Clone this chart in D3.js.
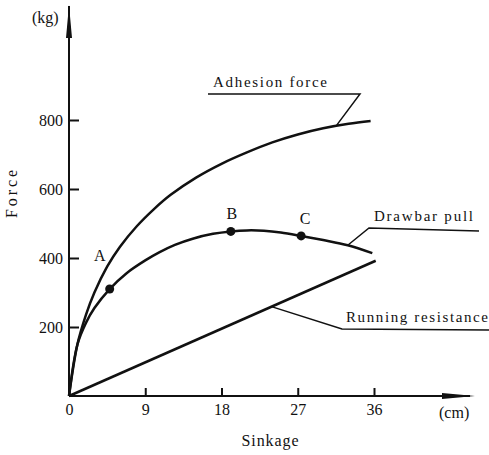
<!DOCTYPE html>
<html>
<head>
<meta charset="utf-8">
<script src="https://cdn.jsdelivr.net/npm/d3@7"></script>
<style>
  body { margin: 0; background: #fff; }
  text { font-family: "Liberation Serif", "DejaVu Serif", serif; fill: #111; }
</style>
</head>
<body>
<script>
// data (sinkage in cm, force in kg)
const adhesion = [
  [0, 0], [1, 150], [2, 235], [3, 300], [4.5, 375], [6, 432], [8, 492], [10, 541],
  [12, 583], [15, 633], [18, 673], [21, 706], [24, 735], [27, 758], [30, 776],
  [33, 789], [35.6, 797]
];
const drawbar = [
  [0, 0], [1, 150], [2, 212], [3, 255], [4.8, 310], [6.8, 356], [9, 393], [10.7, 417],
  [12.5, 438], [14.6, 456], [17, 470], [19.1, 477], [21, 480], [23, 479], [25, 474],
  [27.4, 464], [30, 452], [32.9, 437], [35.8, 414]
];
const running = [[0, 0], [36.2, 392]];
const points = [
  { name: "A", x: 4.8, y: 310 },
  { name: "B", x: 19.1, y: 477 },
  { name: "C", x: 27.4, y: 464 }
];
const xTicks = [0, 9, 18, 27, 36];
const yTicks = [200, 400, 600, 800];

const width = 489, height = 455;
const svg = d3.select('body').append('svg')
    .attr('width', width)
    .attr('height', height);

const x = d3.scaleLinear().domain([0, 36]).range([69, 374]);
const y = d3.scaleLinear().domain([0, 800]).range([396, 120]);

// axes with inward ticks
const gx = svg.append('g')
    .attr('transform', `translate(0,${y(0)})`)
    .call(d3.axisBottom(x).tickValues(xTicks).tickSizeInner(-8).tickSizeOuter(0).tickPadding(8));
const gy = svg.append('g')
    .attr('transform', `translate(${x(0)},0)`)
    .call(d3.axisLeft(y).tickValues(yTicks).tickSizeInner(-10).tickSizeOuter(0).tickPadding(6));
[gx, gy].forEach(g => {
  g.attr('font-family', '"Liberation Serif", serif');
  g.select('.domain').remove();
  g.selectAll('line').attr('stroke', '#111').attr('stroke-width', 2);
  g.selectAll('text').attr('font-size', 16).attr('fill', '#111');
});

// axis lines with arrows
svg.append('line').attr('x1', x(0)).attr('y1', y(0)).attr('x2', 470).attr('y2', y(0))
    .attr('stroke', '#111').attr('stroke-width', 2);
svg.append('line').attr('x1', x(0)).attr('y1', y(0)).attr('x2', x(0)).attr('y2', 6)
    .attr('stroke', '#111').attr('stroke-width', 2);
svg.append('path')
    .attr('d', `M442,${y(0) - 3}L475,${y(0)}L442,${y(0) + 3}Z`)
    .attr('fill', '#111');
svg.append('path')
    .attr('d', `M${x(0) - 3},38L${x(0)},5L${x(0) + 3},38Z`)
    .attr('fill', '#111');

// curves
const line = d3.line().x(d => x(d[0])).y(d => y(d[1])).curve(d3.curveCatmullRom.alpha(0.5));
[adhesion, drawbar, running].forEach(s => {
  svg.append('path')
      .attr('d', line(s))
      .attr('fill', 'none')
      .attr('stroke', '#111')
      .attr('stroke-width', 2.5);
});

// marked points
svg.selectAll('circle.pt')
    .data(points)
    .enter()
    .append('circle')
    .attr('class', 'pt')
    .attr('cx', d => x(d.x))
    .attr('cy', d => y(d.y))
    .attr('r', 4.5)
    .attr('fill', '#111');
const labelOffset = { A: [-10, -28], B: [1, -12], C: [4, -12] };
svg.selectAll('text.pt')
    .data(points)
    .enter()
    .append('text')
    .attr('class', 'pt')
    .attr('x', d => x(d.x) + labelOffset[d.name][0])
    .attr('y', d => y(d.y) + labelOffset[d.name][1])
    .attr('text-anchor', 'middle')
    .attr('font-size', 16)
    .text(d => d.name);

// leader lines and labels
const leaders = [
  { text: 'Adhesion force', at: [31.6, 785], bend: [360, 94], end: [208, 94], tx: 213, ty: 87, len: 114 },
  { text: 'Drawbar pull', at: [32.9, 437], bend: [369, 228], end: [479, 231], tx: 374, ty: 221, len: 99 },
  { text: 'Running resistance', at: [23.9, 259], bend: [342, 329], end: [489, 330], tx: 346, ty: 322, len: 142 }
];
leaders.forEach(l => {
  svg.append('polyline')
      .attr('points', [[x(l.at[0]), y(l.at[1])], l.bend, l.end].map(p => p.join(',')).join(' '))
      .attr('fill', 'none')
      .attr('stroke', '#111')
      .attr('stroke-width', 1.5);
  svg.append('text')
      .attr('x', l.tx)
      .attr('y', l.ty)
      .attr('font-size', 15)
      .attr('textLength', l.len)
      .attr('lengthAdjust', 'spacing')
      .text(l.text);
});

// axis titles and units
svg.append('text').attr('x', 270).attr('y', 446).attr('text-anchor', 'middle')
    .attr('font-size', 16).attr('textLength', 57).attr('lengthAdjust', 'spacing').text('Sinkage');
svg.append('text').attr('transform', 'translate(17,194) rotate(-90)').attr('text-anchor', 'middle')
    .attr('font-size', 16).attr('textLength', 48).attr('lengthAdjust', 'spacing').text('Force');
svg.append('text').attr('x', 32).attr('y', 23).attr('font-size', 16).text('(kg)');
svg.append('text').attr('x', 439).attr('y', 418).attr('font-size', 16).text('(cm)');
</script>
</body>
</html>
